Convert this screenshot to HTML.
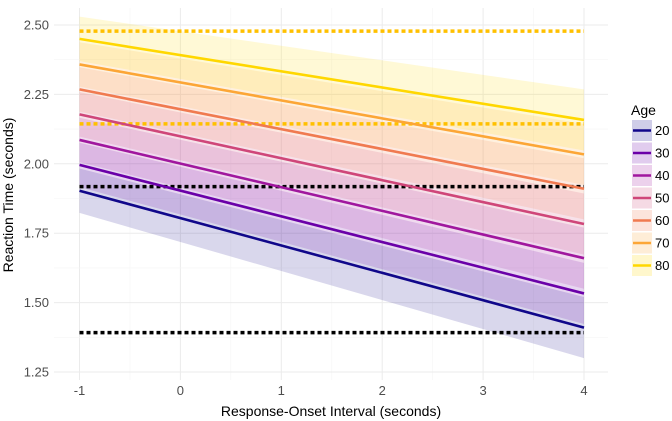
<!DOCTYPE html>
<html><head><meta charset="utf-8"><style>
html,body{margin:0;padding:0;background:#fff;}
svg{display:block;font-family:"Liberation Sans",sans-serif;}
</style></head><body>
<svg id="chart" width="672" height="421" viewBox="0 0 672 421" xmlns="http://www.w3.org/2000/svg"></svg>
<script>
const ages = ["20","30","40","50","60","70","80"];
const colors = ["#10078a","#6a00a8","#a0179e","#cf4679","#f07a50","#fca636","#ffd700"];
const startValues = [1.903,1.996,2.086,2.178,2.268,2.358,2.45];
const endValues = [1.41,1.533,1.66,1.783,1.91,2.034,2.158];
const ciStart = [0.08,0.08,0.08,0.08,0.08,0.08,0.08];
const ciEnd = [0.11,0.11,0.11,0.11,0.11,0.11,0.11];
const refLines = [2.478,2.144,1.918,1.392];
const refColors = ["#ffc000","#ffc000","#000","#000"];
const xTicks = [-1,0,1,2,3,4];
const yTicks = [1.25,1.5,1.75,2.0,2.25,2.5];
const yTickLabels = ["1.25","1.50","1.75","2.00","2.25","2.50"];
const xMin=-1, xMax=4;

const NS="http://www.w3.org/2000/svg";
const svg=document.getElementById('chart');
const sx=v=>79.5+(v+1)*100.9;
const sy=v=>25+(2.5-v)*277.6;
const P={l:54,r:608,t:8,b:380};
function mk(tag,attrs,parent){const e=document.createElementNS(NS,tag);for(const k in attrs)e.setAttribute(k,attrs[k]);(parent||svg).appendChild(e);return e;}

const grid=mk('g',{});


for(let v=-1.5;v<=4.5;v+=0.5){const major=Number.isInteger(v);const x=sx(v);if(x<P.l-1||x>P.r+1)continue;
 mk('line',{x1:x,x2:x,y1:P.t,y2:P.b,stroke:major?'#ebebeb':'#f5f5f5','stroke-width':major?1:0.6},grid);}
for(let v=1.125;v<=2.625;v+=0.125){const major=Math.abs(v*4-Math.round(v*4))<1e-6;const y=sy(v);if(y<P.t-1||y>P.b+1)continue;
 mk('line',{x1:P.l,x2:P.r,y1:y,y2:y,stroke:major?'#ebebeb':'#f5f5f5','stroke-width':major?1:0.6},grid);}

ages.forEach((a,i)=>{
 const x1=sx(xMin),x2=sx(xMax);
 const pts=[[x1,sy(startValues[i]+ciStart[i])],[x2,sy(endValues[i]+ciEnd[i])],[x2,sy(endValues[i]-ciEnd[i])],[x1,sy(startValues[i]-ciStart[i])]];
 const b=mk('polygon',{points:pts.map(p=>p.join(',')).join(' '),fill:colors[i],'fill-opacity':0.16});
 
 
});
refLines.forEach((v,i)=>{
 const l=mk('line',{x1:sx(xMin),x2:sx(xMax),y1:sy(v),y2:sy(v),stroke:refColors[i],'stroke-width':3.5,'stroke-dasharray':'4 3'});
 
 
});
ages.forEach((a,i)=>{
 const l=mk('line',{x1:sx(xMin),x2:sx(xMax),y1:sy(startValues[i]),y2:sy(endValues[i]),stroke:colors[i],'stroke-width':2.6});
 
 
});
xTicks.forEach(v=>{
 const t=mk('text',{x:sx(v),y:395,'text-anchor':'middle','font-size':13,fill:'#4d4d4d'});t.textContent=String(v);
 
 
});
yTicks.forEach((v,i)=>{
 const t=mk('text',{x:49,y:sy(v)+4.5,'text-anchor':'end','font-size':13,fill:'#4d4d4d'});t.textContent=yTickLabels[i];
 
 
});
const xt=mk('text',{x:331,y:416,'text-anchor':'middle','font-size':14,fill:'#000'});xt.textContent='Response-Onset Interval (seconds)';


const yt=mk('text',{x:0,y:0,'text-anchor':'middle','font-size':14,fill:'#000',transform:'translate(13,195) rotate(-90)'});yt.textContent='Reaction Time (seconds)';



const lg=mk('g',{});


const lt=mk('text',{x:631,y:115,'font-size':14,fill:'#000'},lg);lt.textContent='Age';
ages.forEach((a,i)=>{
 const y=120+i*22.5;
 const g=mk('g',{},lg);
 
 
 mk('rect',{x:632,y:y,width:20,height:21,fill:colors[i],'fill-opacity':0.2},g);
 mk('line',{x1:633,x2:651,y1:y+10.5,y2:y+10.5,stroke:colors[i],'stroke-width':2.6},g);
 const t=mk('text',{x:655,y:y+15,'font-size':13,fill:'#000'},g);t.textContent=a;
});
</script>
</body></html>
